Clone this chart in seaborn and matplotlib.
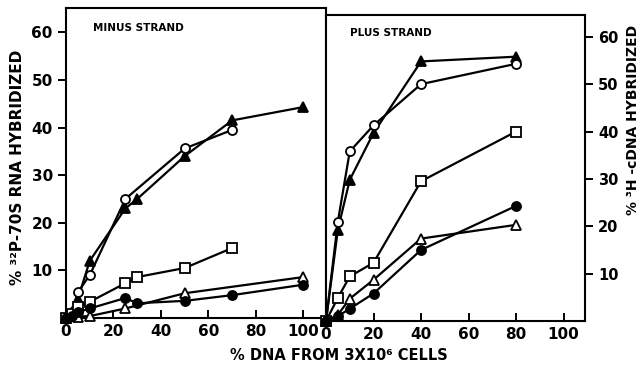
import matplotlib
matplotlib.use("Agg")
import matplotlib.pyplot as plt
import seaborn as sns
import pandas as pd

sns.set_style("ticks")
plt.rcParams['font.family'] = ['DejaVu Sans']
plt.rcParams['font.weight'] = 'bold'
for k in ['text.color', 'axes.labelcolor', 'xtick.color', 'ytick.color', 'axes.edgecolor']:
    plt.rcParams[k] = 'black'

# ---- data: MINUS STRAND (left panel) ----
minus_ftri_x = [0, 2.5, 5, 10, 25, 30, 50, 70, 100]
minus_ftri_y = [0, 1.2, 4.0, 12.0, 23.0, 25.0, 34.0, 41.5, 44.3]
minus_ocirc_x = [0, 2.5, 5, 10, 25, 50, 70]
minus_ocirc_y = [0, 1.0, 5.4, 9.0, 25.0, 35.6, 39.5]
minus_osq_x = [0, 2.5, 5, 10, 25, 30, 50, 70]
minus_osq_y = [0, 0.8, 2.3, 3.4, 7.3, 8.6, 10.5, 14.7]
minus_otri_x = [0, 5, 10, 25, 50, 100]
minus_otri_y = [0, 0.3, 0.4, 2.0, 5.2, 8.6]
minus_fcirc_x = [0, 2.5, 5, 10, 25, 30, 50, 70, 100]
minus_fcirc_y = [0, 0.5, 1.2, 2.0, 4.2, 3.1, 3.6, 4.8, 7.0]

# ---- data: PLUS STRAND (right panel) ----
plus_x = [0, 5, 10, 20, 40, 80]
plus_ftri_y = [0, 19.3, 29.8, 39.7, 54.8, 55.8]
plus_ocirc_y = [0, 21.0, 35.8, 41.3, 50.0, 54.3]
plus_osq_y = [0, 4.9, 9.4, 12.3, 29.5, 40.0]
plus_otri_y = [0, 1.3, 4.7, 8.7, 17.4, 20.3]
plus_fcirc_y = [0, 1.0, 2.6, 5.8, 15.0, 24.3]

xticks = [0, 20, 40, 60, 80, 100]
yticks = [10, 20, 30, 40, 50, 60]

left_series = [
    (minus_ftri_x, minus_ftri_y, '^', 'black'),
    (minus_ocirc_x, minus_ocirc_y, 'o', 'white'),
    (minus_osq_x, minus_osq_y, 's', 'white'),
    (minus_otri_x, minus_otri_y, '^', 'white'),
    (minus_fcirc_x, minus_fcirc_y, 'o', 'black'),
]
right_series = [
    (plus_x, plus_ftri_y, '^', 'black'),
    (plus_x, plus_ocirc_y, 'o', 'white'),
    (plus_x, plus_osq_y, 's', 'white'),
    (plus_x, plus_otri_y, '^', 'white'),
    (plus_x, plus_fcirc_y, 'o', 'black'),
]

fig = plt.figure(figsize=(6.41, 3.74), dpi=100)
axL = fig.add_axes([66/641, (374-318)/374, 260/641, 310/374])
axR = fig.add_axes([326/641, (374-321)/374, 259/641, 306/374])

def draw(ax, series):
    for xs, ys, m, fc in series:
        df = pd.DataFrame({'x': xs, 'y': ys})
        sns.lineplot(data=df, x='x', y='y', ax=ax, sort=False, estimator=None,
                     color='black', linewidth=1.6, marker=m, markersize=6.5,
                     markerfacecolor=fc, markeredgecolor='black',
                     markeredgewidth=1.3, clip_on=False, zorder=3)
    ax.set_xlabel('')
    ax.set_ylabel('')
    for s in ax.spines.values():
        s.set_visible(True)
        s.set_linewidth(1.5)
        s.set_color('black')
    ax.set_xticks(xticks)
    ax.set_yticks(yticks)
    ax.tick_params(axis='x', direction='in', length=6, width=1.4,
                   labelsize=11, pad=4, colors='black')
    ax.tick_params(axis='y', direction='out', length=6, width=1.4,
                   labelsize=11, colors='black')
    for lab in ax.get_xticklabels() + ax.get_yticklabels():
        lab.set_fontweight('bold')

draw(axL, left_series)
axL.set_xlim(0, 109.5)
axL.set_ylim(0, 65.1)
axL.text(11.5, 61, 'MINUS STRAND', fontsize=7.5, fontweight='heavy',
         ha='left', va='center')

draw(axR, right_series)
axR.set_xlim(0, 109)
axR.set_ylim(0, 64.6)
axR.yaxis.tick_right()
axR.tick_params(axis='y', labelsize=10.5)
axR.text(10.3, 60.8, 'PLUS STRAND', fontsize=7.5, fontweight='heavy',
         ha='left', va='center')

fig.text(18/641, (374-167)/374, '% ³²P-70S RNA HYBRIDIZED', rotation=90,
         ha='center', va='center', fontsize=11, fontweight='bold')
fig.text(626/641, (374-120)/374, '% ³H -cDNA HYBRIDIZED', rotation=90,
         ha='left', va='center', fontsize=10, fontweight='bold')
fig.text(339/641, (374-356)/374, '% DNA FROM 3X10⁶ CELLS',
         ha='center', va='center', fontsize=10.5, fontweight='bold')

fig.savefig('out.png', dpi=100)
